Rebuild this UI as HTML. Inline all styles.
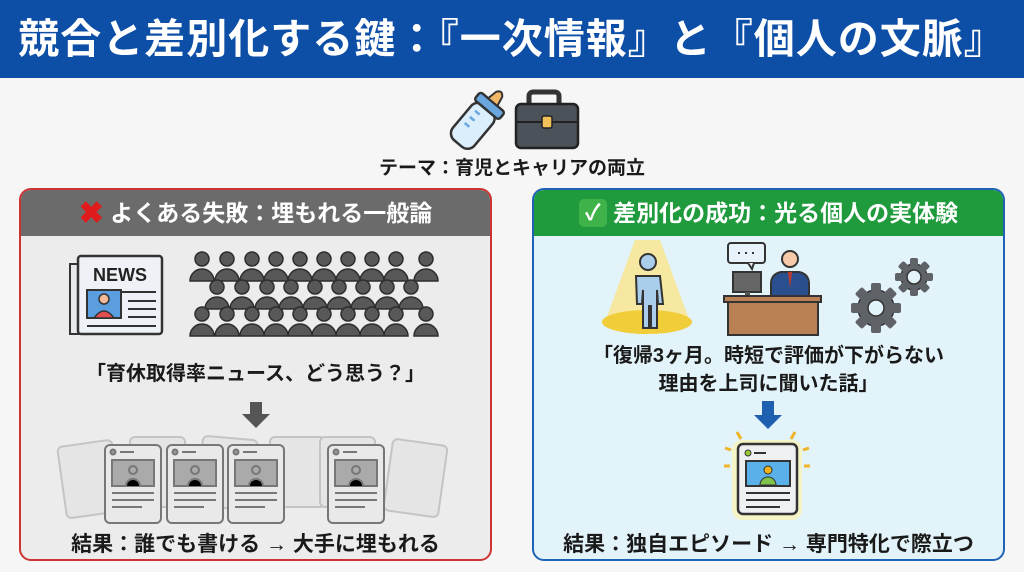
<!DOCTYPE html>
<html><head><meta charset="utf-8"><style>
*{margin:0;padding:0;box-sizing:border-box}
body{width:1024px;height:572px;overflow:hidden;background:#f6f6f6;font-family:"Liberation Sans","Noto Sans CJK JP",sans-serif;position:relative;font-weight:bold;color:#1a1a1a}
.hdr{position:absolute;left:0;top:0;width:1024px;height:78px;background:#0d4ea6;color:#fff;font-size:41px;text-align:center;line-height:78px;letter-spacing:1px}
.abs{position:absolute}
.panel{position:absolute;top:188px;width:473px;height:373px;border-radius:12px;overflow:hidden}
.ph{height:46px;color:#fff;font-size:23px;line-height:46px;text-align:center}
.t{position:absolute;text-align:center;white-space:nowrap}
</style></head><body>
<div class="hdr">競合と差別化する鍵：『一次情報』と『個人の文脈』</div>

<svg class="abs" style="left:440px;top:86px" width="150" height="66" viewBox="0 0 150 66">
 <g transform="translate(36,36) rotate(40)">
  <rect x="-14" y="-18" width="28" height="46" rx="9" fill="#dbeefc" stroke="#333" stroke-width="2.5"/>
  <rect x="-16" y="-26" width="32" height="10" rx="3" fill="#6aa7e0" stroke="#333" stroke-width="2.5"/>
  <path d="M-6,-26 L-4,-36 Q0,-42 4,-36 L6,-26Z" fill="#f2b867" stroke="#333" stroke-width="2"/>
  <path d="M-8,-8h6M-8,0h6M-8,8h6" stroke="#6aa7e0" stroke-width="2.5"/>
 </g>
 <rect x="89" y="6" width="30" height="16" rx="4" fill="none" stroke="#333" stroke-width="5"/>
 <rect x="76" y="18" width="62" height="44" rx="5" fill="#4b5259" stroke="#222" stroke-width="2.5"/>
 <path d="M76,36 L138,36" stroke="#222" stroke-width="2"/>
 <rect x="102" y="30" width="10" height="12" rx="2" fill="#f2c15a" stroke="#222" stroke-width="1.5"/>
</svg>
<div class="t" style="left:0;width:1024px;top:153px;font-size:19px">テーマ：育児とキャリアの両立</div>

<div class="panel" style="left:19px;border:2px solid #c33;background:#ececec">
 <div class="ph" style="background:#6b6b6b"><span style="color:#e01b1b;font-size:30px;vertical-align:-2px">✖</span> よくある失敗：埋もれる一般論</div>
</div>
<div class="panel" style="left:532px;border:2px solid #1f63b5;background:#e2f3f9">
 <div class="ph" style="background:#1f9a3d"><span style="display:inline-block;width:28px;height:28px;background:#3fb34a;border-radius:5px;line-height:28px;font-size:22px;vertical-align:1px">✓</span> 差別化の成功：光る個人の実体験</div>
</div>

<svg class="abs" style="left:0;top:240px" width="512" height="290" viewBox="0 240 512 290">
 <rect x="70" y="264" width="10" height="70" fill="#e6e8ec" stroke="#333" stroke-width="2"/>
 <rect x="78" y="256" width="84" height="78" rx="3" fill="#eef1f5" stroke="#333" stroke-width="2.5"/>
 <text x="120" y="281" font-size="18" font-family="Liberation Sans" font-weight="bold" text-anchor="middle" fill="#222">NEWS</text>
 <rect x="87" y="290" width="34" height="28" fill="#5a9ee0" stroke="#333" stroke-width="2"/>
 <circle cx="104" cy="299" r="5" fill="#f4b99a" stroke="#333" stroke-width="1.5"/>
 <path d="M94,318 Q104,304 114,318Z" fill="#e05050" stroke="#333" stroke-width="1.5"/>
 <path d="M121,292h35M128,301h28M128,309h28M128,317h28M87,326h69" stroke="#333" stroke-width="2"/>
 <g fill="#585858" stroke="#2d2d2d" stroke-width="1.5">
  <g>
   <circle cx="202" cy="259" r="7"/><circle cx="227" cy="259" r="7"/><circle cx="252" cy="259" r="7"/><circle cx="276" cy="259" r="7"/><circle cx="300" cy="259" r="7"/><circle cx="324" cy="259" r="7"/><circle cx="348" cy="259" r="7"/><circle cx="372" cy="259" r="7"/><circle cx="396" cy="259" r="7"/><circle cx="426" cy="259" r="7"/>
   <path d="M190,281a12,12 0 0 1 24,0zM215,281a12,12 0 0 1 24,0zM240,281a12,12 0 0 1 24,0zM264,281a12,12 0 0 1 24,0zM288,281a12,12 0 0 1 24,0zM312,281a12,12 0 0 1 24,0zM336,281a12,12 0 0 1 24,0zM360,281a12,12 0 0 1 24,0zM384,281a12,12 0 0 1 24,0zM414,281a12,12 0 0 1 24,0z"/>
  </g>
  <g transform="translate(15,28)">
   <circle cx="202" cy="259" r="7"/><circle cx="227" cy="259" r="7"/><circle cx="252" cy="259" r="7"/><circle cx="276" cy="259" r="7"/><circle cx="300" cy="259" r="7"/><circle cx="324" cy="259" r="7"/><circle cx="348" cy="259" r="7"/><circle cx="372" cy="259" r="7"/><circle cx="396" cy="259" r="7"/>
   <path d="M190,281a12,12 0 0 1 24,0zM215,281a12,12 0 0 1 24,0zM240,281a12,12 0 0 1 24,0zM264,281a12,12 0 0 1 24,0zM288,281a12,12 0 0 1 24,0zM312,281a12,12 0 0 1 24,0zM336,281a12,12 0 0 1 24,0zM360,281a12,12 0 0 1 24,0zM384,281a12,12 0 0 1 24,0z"/>
  </g>
  <g transform="translate(0,55)">
   <circle cx="202" cy="259" r="7"/><circle cx="227" cy="259" r="7"/><circle cx="252" cy="259" r="7"/><circle cx="276" cy="259" r="7"/><circle cx="300" cy="259" r="7"/><circle cx="324" cy="259" r="7"/><circle cx="348" cy="259" r="7"/><circle cx="372" cy="259" r="7"/><circle cx="396" cy="259" r="7"/><circle cx="426" cy="259" r="7"/>
   <path d="M190,281a12,12 0 0 1 24,0zM215,281a12,12 0 0 1 24,0zM240,281a12,12 0 0 1 24,0zM264,281a12,12 0 0 1 24,0zM288,281a12,12 0 0 1 24,0zM312,281a12,12 0 0 1 24,0zM336,281a12,12 0 0 1 24,0zM360,281a12,12 0 0 1 24,0zM384,281a12,12 0 0 1 24,0zM414,281a12,12 0 0 1 24,0z"/>
  </g>
 </g>
 <path d="M250,402h12v12h8l-14,14l-14,-14h8z" fill="#555"/>
 <g fill="#e4e4e4" stroke="#bbb" stroke-width="2" opacity="0.8">
  <rect x="62" y="443" width="55" height="72" rx="5" transform="rotate(-8 90 480)"/>
  <rect x="130" y="437" width="55" height="70" rx="5"/>
  <rect x="200" y="438" width="55" height="70" rx="5" transform="rotate(5 228 473)"/>
  <rect x="270" y="437" width="55" height="70" rx="5"/>
  <rect x="320" y="437" width="55" height="70" rx="5"/>
  <rect x="388" y="442" width="55" height="72" rx="5" transform="rotate(8 415 478)"/>
 </g>
 <g stroke="#777" stroke-width="2">
  <g><rect x="105" y="445" width="56" height="78" rx="5" fill="#e9e9e9"/><rect x="112" y="460" width="42" height="26" fill="#aaa"/><circle cx="133" cy="470" r="4" fill="none"/><path d="M126,486a7,7 0 0 1 14,0M112,493h42M112,500h42M112,507h30M120,452h14"/><circle cx="113" cy="452" r="2.5" fill="#999"/></g>
  <g transform="translate(62,0)"><rect x="105" y="445" width="56" height="78" rx="5" fill="#e9e9e9"/><rect x="112" y="460" width="42" height="26" fill="#aaa"/><circle cx="133" cy="470" r="4" fill="none"/><path d="M126,486a7,7 0 0 1 14,0M112,493h42M112,500h42M112,507h30M120,452h14"/><circle cx="113" cy="452" r="2.5" fill="#999"/></g>
  <g transform="translate(123,0)"><rect x="105" y="445" width="56" height="78" rx="5" fill="#e9e9e9"/><rect x="112" y="460" width="42" height="26" fill="#aaa"/><circle cx="133" cy="470" r="4" fill="none"/><path d="M126,486a7,7 0 0 1 14,0M112,493h42M112,500h42M112,507h30M120,452h14"/><circle cx="113" cy="452" r="2.5" fill="#999"/></g>
  <g transform="translate(223,0)"><rect x="105" y="445" width="56" height="78" rx="5" fill="#e9e9e9"/><rect x="112" y="460" width="42" height="26" fill="#aaa"/><circle cx="133" cy="470" r="4" fill="none"/><path d="M126,486a7,7 0 0 1 14,0M112,493h42M112,500h42M112,507h30M120,452h14"/><circle cx="113" cy="452" r="2.5" fill="#999"/></g>
 </g>
</svg>
<div class="t" style="left:19px;width:473px;top:357px;font-size:20px">「育休取得率ニュース、どう思う？」</div>
<div class="t" style="left:19px;width:473px;top:528px;font-size:21px">結果：誰でも書ける → 大手に埋もれる</div>

<svg class="abs" style="left:512px;top:236px" width="512" height="290" viewBox="512 236 512 290">
 <path d="M635,240 L660,240 L690,322 L605,322Z" fill="#fbe58a" opacity="0.8"/>
 <ellipse cx="647" cy="322" rx="45" ry="12" fill="#f2cd3a"/>
 <g fill="#a9cdea" stroke="#333" stroke-width="2">
  <circle cx="648" cy="262" r="8"/>
  <path d="M636,276 h24 l3,28 h-5 l-1,-14 v38 h-6 v-22 h-2 v22 h-6 v-38 l-1,14 h-5z"/>
 </g>
 <rect x="728" y="243" width="37" height="20" rx="3" fill="#e7f2fb" stroke="#333" stroke-width="2"/>
 <path d="M748,263l4,6l2,-6" fill="#e7f2fb" stroke="#333" stroke-width="2"/>
 <path d="M738,253h2M745,253h2M752,253h2" stroke="#333" stroke-width="2"/>
 <rect x="733" y="272" width="28" height="20" fill="#666" stroke="#333" stroke-width="2"/>
 <rect x="745" y="292" width="5" height="5" fill="#555"/>
 <circle cx="790" cy="259" r="8" fill="#f6c9a9" stroke="#333" stroke-width="2"/>
 <path d="M771,296 v-12 q0,-10 10,-12 h18 q10,2 10,12 v12z" fill="#2a4f8f" stroke="#333" stroke-width="2"/>
 <path d="M788,272 l2,16 l2,-16z" fill="#c0392b"/>
 <rect x="724" y="296" width="97" height="6" fill="#b97f55" stroke="#333" stroke-width="2"/>
 <rect x="728" y="302" width="90" height="33" fill="#b97f55" stroke="#333" stroke-width="2"/>
 <g fill="#5f6368" stroke="#333" stroke-width="1.5">
  <circle cx="876" cy="308" r="18"/>
  <g stroke="none"><rect x="871" y="283" width="10" height="50" rx="2"/><rect x="851" y="303" width="50" height="10" rx="2"/><rect x="871" y="283" width="10" height="50" rx="2" transform="rotate(45 876 308)"/><rect x="871" y="283" width="10" height="50" rx="2" transform="rotate(-45 876 308)"/></g>
  <circle cx="876" cy="308" r="8" fill="#e2f3f9"/>
  <circle cx="914" cy="277" r="13"/>
  <g stroke="none"><rect x="910" y="258" width="8" height="38" rx="2"/><rect x="895" y="273" width="38" height="8" rx="2"/><rect x="910" y="258" width="8" height="38" rx="2" transform="rotate(45 914 277)"/><rect x="910" y="258" width="8" height="38" rx="2" transform="rotate(-45 914 277)"/></g>
  <circle cx="914" cy="277" r="7" fill="#e2f3f9"/>
 </g>
 <path d="M762,401h12v14h8l-14,14l-14,-14h8z" fill="#1f5fb0"/>
 <rect x="732" y="440" width="70" height="80" rx="10" fill="#fcf3b0" opacity="0.7"/>
 <path d="M737,432l4,7M795,432l-4,7M725,448l6,2M809,448l-6,2M724,466h6M810,466h-6" stroke="#f0b429" stroke-width="3"/>
 <rect x="738" y="444" width="59" height="70" rx="5" fill="#eef0f2" stroke="#333" stroke-width="2.5"/>
 <circle cx="748" cy="453" r="3" fill="#9c3" stroke="#333" stroke-width="1"/>
 <path d="M754,453h12" stroke="#333" stroke-width="2"/>
 <rect x="746" y="461" width="44" height="25" fill="#5ab0e8" stroke="#333" stroke-width="2"/>
 <circle cx="768" cy="470" r="4" fill="#f2b21a" stroke="#333" stroke-width="1"/>
 <path d="M760,485a8,8 0 0 1 16,0z" fill="#7fc34a" stroke="#333" stroke-width="1"/>
 <path d="M746,493h44M746,500h44M746,507h34" stroke="#333" stroke-width="2"/>
</svg>
<div class="t" style="left:532px;width:473px;top:342px;font-size:20px;line-height:28px">「復帰3ヶ月。時短で評価が下がらない<br>理由を上司に聞いた話」</div>
<div class="t" style="left:532px;width:473px;top:528px;font-size:21px">結果：独自エピソード → 専門特化で際立つ</div>
</body></html>
